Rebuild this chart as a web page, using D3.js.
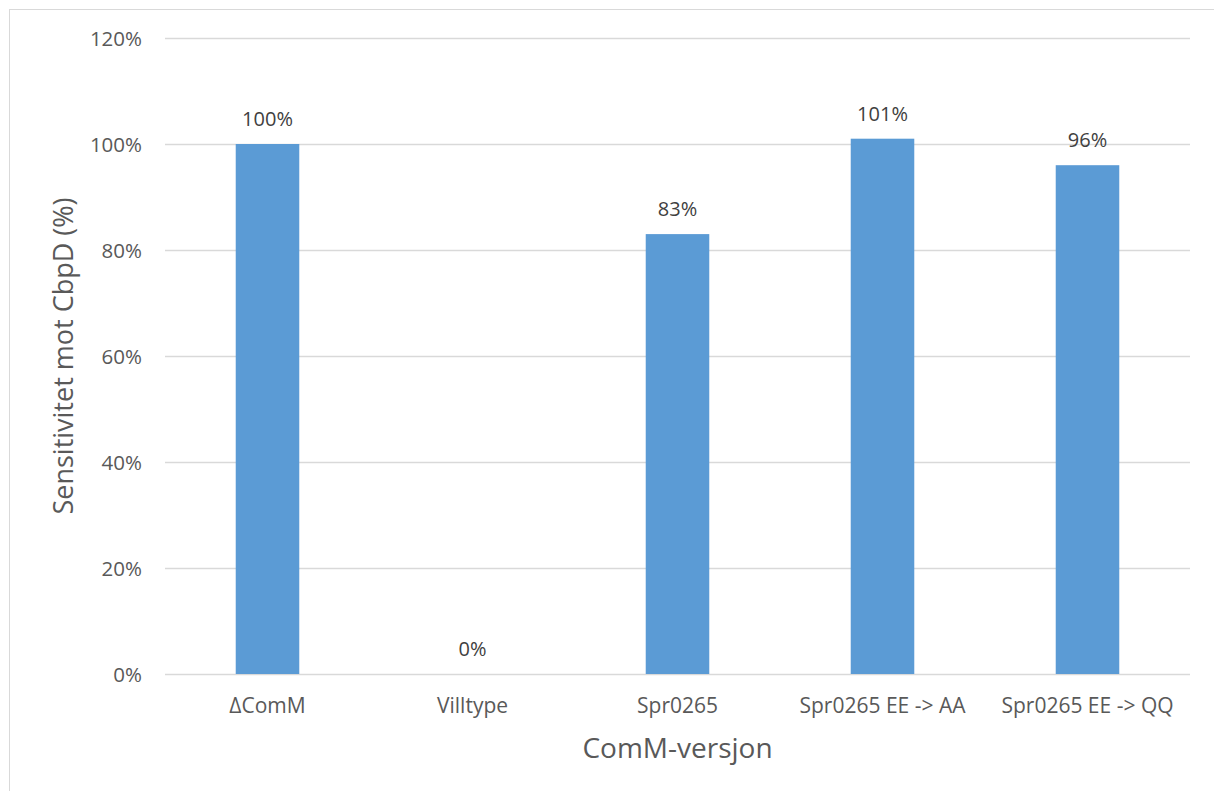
<!DOCTYPE html>
<html>
<head>
<meta charset="utf-8">
<script src="https://cdn.jsdelivr.net/npm/d3@7"></script>
<style>
  html, body { margin: 0; padding: 0; background: #fff; }
  svg { display: block; font-family: "Open Sans", "Noto Sans", sans-serif; }
</style>
</head>
<body>
<svg id="chart" width="1214" height="791"></svg>
<script>
// ComM variants and their sensitivity towards CbpD (fraction of ΔComM)
const categories = ["\u0394ComM", "Villtype", "Spr0265", "Spr0265 EE -> AA", "Spr0265 EE -> QQ"];
const sensitivity = [1.00, 0.00, 0.83, 1.01, 0.96];
const yTicks = [0, 0.2, 0.4, 0.6, 0.8, 1.0, 1.2];
const xTitle = "ComM-versjon";
const yTitle = "Sensitivitet mot CbpD (%)";

const svg = d3.select("#chart");
const textColor = "#595959";
const gridColor = "#d9d9d9";
const barColor = "#5b9bd5";

// chart-area frame
svg.append("rect")
  .attr("x", 9.5).attr("y", 9.5)
  .attr("width", 1240).attr("height", 820)
  .attr("fill", "none").attr("stroke", "#d9d9d9").attr("stroke-width", 1);

const plot = { left: 165, right: 1190, top: 38, bottom: 674 };

const x = d3.scaleBand()
  .domain(categories)
  .range([plot.left, plot.right])
  .paddingInner(0.69)
  .paddingOuter(0.345);

const y = d3.scaleLinear()
  .domain([0, 1.2])
  .range([plot.bottom, plot.top]);

const pct = d3.format(".0%");

// horizontal gridlines
svg.append("g")
  .selectAll("line")
  .data(yTicks)
  .join("line")
  .attr("x1", plot.left).attr("x2", plot.right)
  .attr("y1", d => Math.round(y(d)) + 0.5)
  .attr("y2", d => Math.round(y(d)) + 0.5)
  .attr("stroke", gridColor).attr("stroke-width", 1.5);

// y axis labels
const yAxis = svg.append("g")
  .attr("transform", `translate(${plot.left - 23},0)`)
  .call(d3.axisLeft(y).tickValues(yTicks).tickFormat(pct).tickSize(0).tickPadding(0));
yAxis.select(".domain").remove();
yAxis.selectAll("text")
  .attr("fill", textColor)
  .style("font-size", "20.5px")
  .style("font-family", "'Open Sans', sans-serif")
  .attr("dy", "0.36em");

// bars
svg.append("g")
  .selectAll("rect")
  .data(categories)
  .join("rect")
  .attr("x", d => x(d))
  .attr("width", x.bandwidth())
  .attr("y", (d, i) => y(sensitivity[i]))
  .attr("height", (d, i) => y(0) - y(sensitivity[i]))
  .attr("fill", barColor);

// value labels
svg.append("g")
  .selectAll("text")
  .data(categories)
  .join("text")
  .attr("x", d => x(d) + x.bandwidth() / 2)
  .attr("y", (d, i) => y(sensitivity[i]) - 18)
  .attr("text-anchor", "middle")
  .attr("fill", "#404040")
  .style("font-size", "20px")
  .text((d, i) => pct(sensitivity[i]));

// x axis category labels
const xAxis = svg.append("g")
  .attr("transform", `translate(0,${plot.bottom})`)
  .call(d3.axisBottom(x).tickSize(0).tickPadding(24));
xAxis.select(".domain").remove();
xAxis.selectAll("text")
  .attr("fill", textColor)
  .style("font-size", "21px")
  .style("font-family", "'Open Sans', sans-serif");

// axis titles
svg.append("text")
  .attr("x", (plot.left + plot.right) / 2)
  .attr("y", 758)
  .attr("text-anchor", "middle")
  .attr("fill", textColor)
  .style("font-size", "28px")
  .text(xTitle);

svg.append("text")
  .attr("transform", `translate(73,${(plot.top + plot.bottom) / 2}) rotate(-90)`)
  .attr("text-anchor", "middle")
  .attr("fill", textColor)
  .style("font-size", "27px")
  .text(yTitle);
</script>
</body>
</html>
